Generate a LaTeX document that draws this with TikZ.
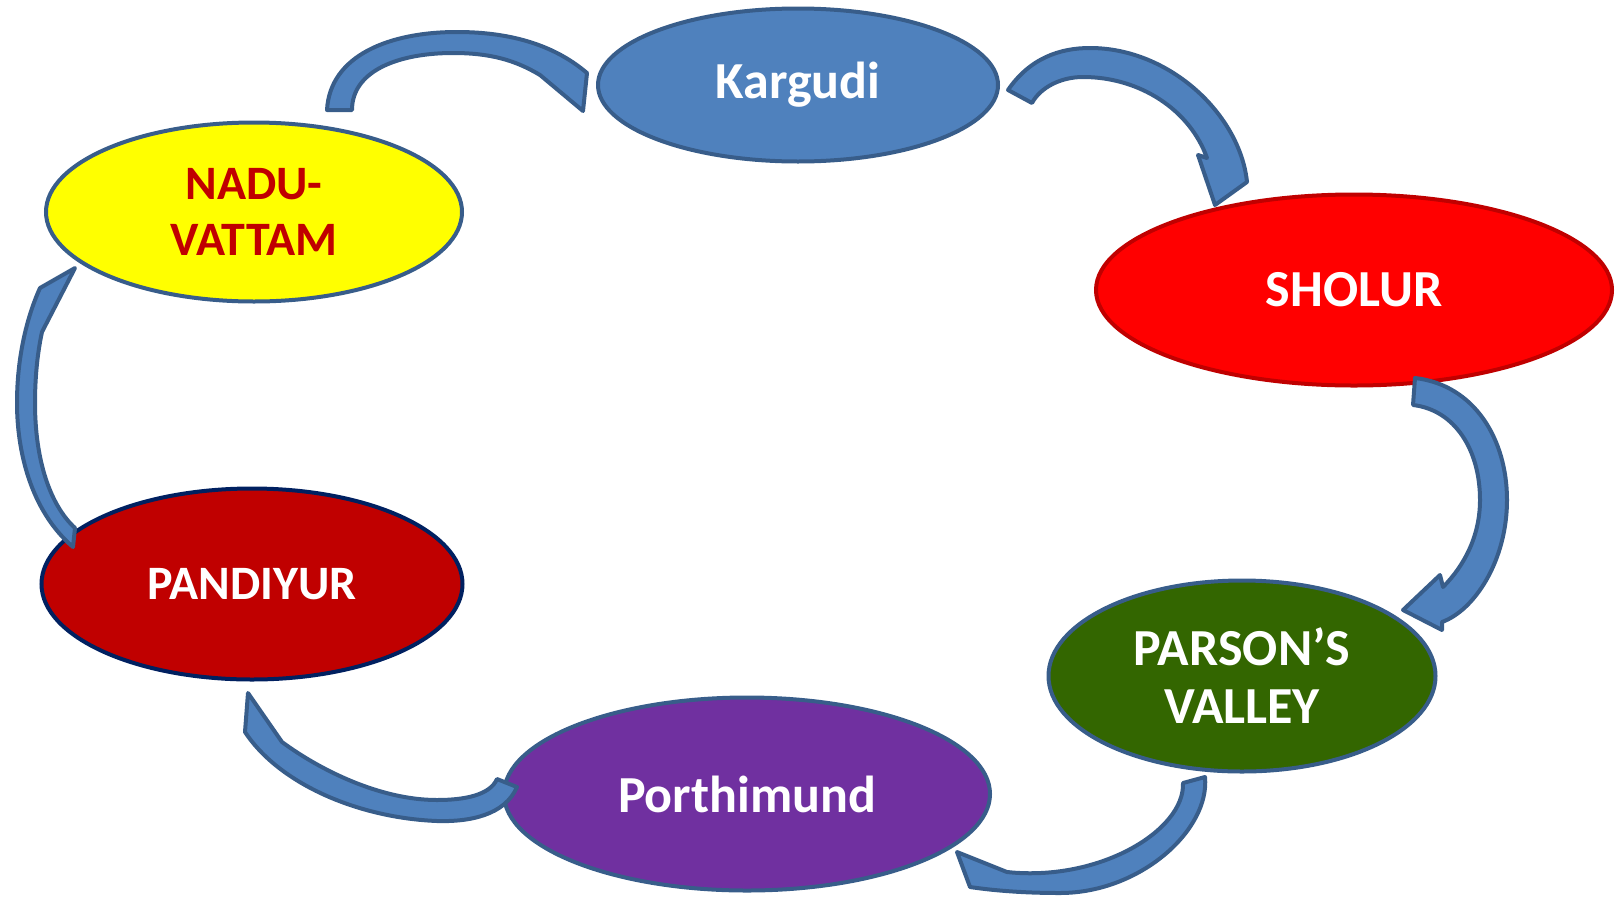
\documentclass[tikz,border=0pt]{standalone}
\usepackage{fontspec}
\setmainfont{Carlito}
\usetikzlibrary{shapes.geometric}
\definecolor{arrfill}{HTML}{4F81BD}
\definecolor{arrline}{HTML}{385D8A}
\definecolor{darkred}{HTML}{C00000}
\definecolor{sholurline}{HTML}{C00000}
\definecolor{parsongreen}{HTML}{336600}
\definecolor{porthpurple}{HTML}{7030A0}
\definecolor{pandline}{HTML}{002060}
\definecolor{nadufill}{HTML}{FFFF00}
\tikzset{
  place/.style={ellipse, inner sep=0pt, line width=4pt, draw=arrline, align=center,
    font=\fontsize{52}{58}\selectfont\bfseries, text=white},
  smalltext/.style={font=\fontsize{48}{56}\selectfont\bfseries},
  curvarrow/.style={fill=arrfill, draw=arrline, line width=4pt, line join=round}
}
\begin{document}
\begin{tikzpicture}[x=1pt, y=-1pt]
\useasboundingbox (0,0) rectangle (1624,900);
% places
\node[place, fill=arrfill, minimum width=400pt, minimum height=153pt] (kargudi) at (798,85) {Kargudi};
\node[place, smalltext, fill=nadufill, text=darkred, minimum width=416pt, minimum height=179pt] (nadu) at (254,212) {NADU-\\VATTAM};
\node[place, fill=red, draw=sholurline, minimum width=516pt, minimum height=191pt] (sholur) at (1354,290) {SHOLUR};
\node[place, fill=parsongreen, minimum width=387pt, minimum height=191pt] (parson) at (1242,676) {PARSON’S\\VALLEY};
\node[place, fill=porthpurple, minimum width=486pt, minimum height=193pt] (porth) at (747,794) {Porthimund};
\node[place, smalltext, fill=darkred, draw=pandline, minimum width=421pt, minimum height=191pt] (pand) at (252,584) {PANDIYUR};
% arrow NADU -> Kargudi
\draw[curvarrow] (327,110) .. controls (330,55) and (390,32) .. (457,32)
  .. controls (520,32) and (560,50) .. (587,73) -- (583,111) -- (540,75)
  .. controls (515,60) and (490,53) .. (453,53)
  .. controls (400,53) and (352,70) .. (352,110) -- cycle;
% arrow Kargudi -> SHOLUR
\draw[curvarrow] (1008,90) .. controls (1030,58) and (1060,48) .. (1090,48)
  .. controls (1170,48) and (1240,115) .. (1247,182) -- (1215,205) -- (1198,155) -- (1207,158)
  .. controls (1190,110) and (1140,77) .. (1083,77)
  .. controls (1060,77) and (1040,88) .. (1032,103) -- cycle;
% arrow SHOLUR -> PARSON'S VALLEY
\draw[curvarrow] (1415,378) .. controls (1475,385) and (1507,440) .. (1507,500)
  .. controls (1507,560) and (1475,610) .. (1442,622) -- (1442,630) -- (1403,610) -- (1440,575) -- (1443,587)
  .. controls (1465,565) and (1480,535) .. (1480,500)
  .. controls (1480,450) and (1455,410) .. (1413,405) -- cycle;
% arrow PARSON'S VALLEY -> Porthimund
\draw[curvarrow] (1205,777) .. controls (1210,830) and (1140,893) .. (1060,893)
  .. controls (1020,893) and (990,890) .. (970,887) -- (957,852) -- (1007,872)
  .. controls (1100,882) and (1185,830) .. (1183,783) -- cycle;
% arrow Porthimund -> PANDIYUR
\draw[curvarrow] (517,787) .. controls (505,815) and (470,822) .. (437,821)
  .. controls (360,818) and (280,785) .. (245,732) -- (248,693) -- (282,742)
  .. controls (320,770) and (380,800) .. (437,800)
  .. controls (465,800) and (490,795) .. (497,779) -- cycle;
% arrow PANDIYUR -> NADU
\draw[curvarrow] (73,547) .. controls (30,510) and (17,450) .. (17,403)
  .. controls (17,350) and (30,310) .. (40,288) -- (75,268) -- (42,332)
  .. controls (37,355) and (35,380) .. (35,403)
  .. controls (35,460) and (50,505) .. (75,528) -- cycle;
\end{tikzpicture}
\end{document}
